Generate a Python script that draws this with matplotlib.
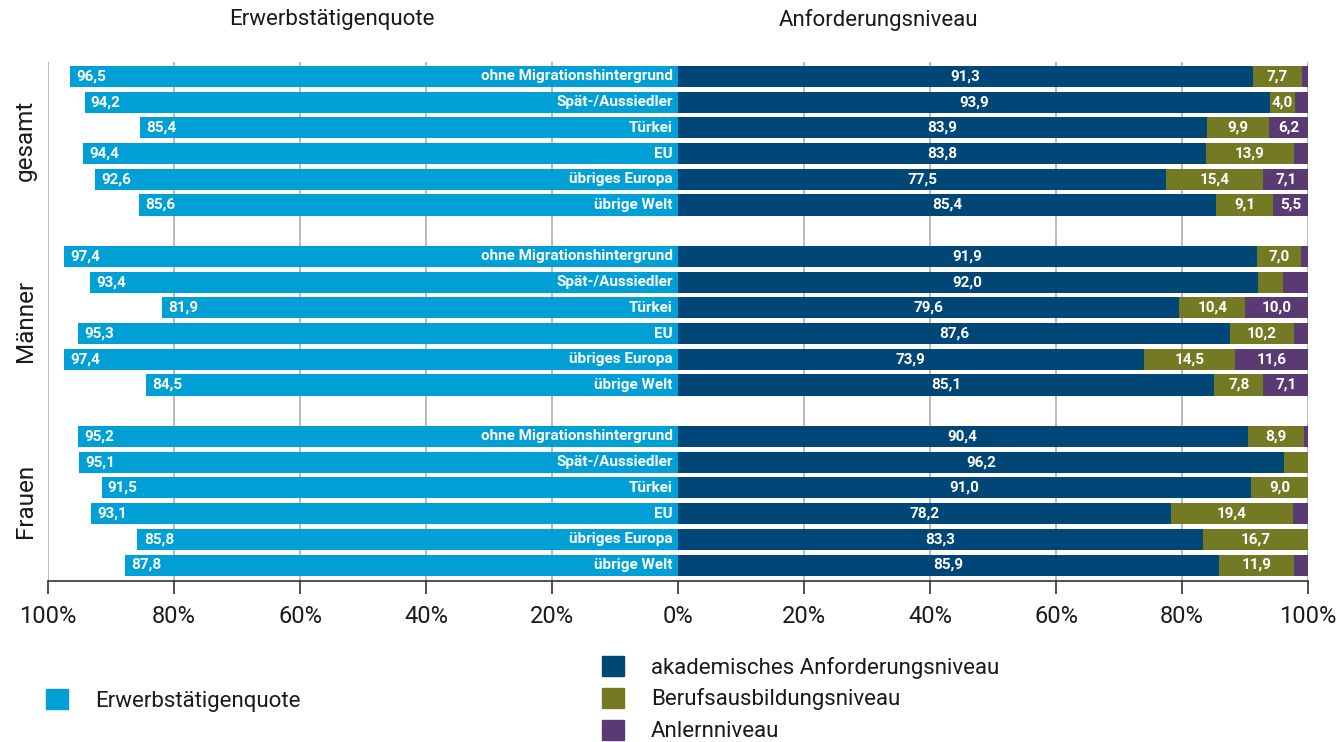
import numpy as np
import matplotlib
matplotlib.use("Agg")
import matplotlib.pyplot as plt
from matplotlib.patches import Patch

plt.rcParams['font.family'] = ['Roboto', 'DejaVu Sans']

groups = ['gesamt', 'Männer', 'Frauen']
origins = ['ohne Migrationshintergrund', 'Spät-/Aussiedler', 'Türkei', 'EU',
           'übriges Europa', 'übrige Welt']

# Erwerbstätigenquote (%), one list per group
quote = [
    [96.5, 94.2, 85.4, 94.4, 92.6, 85.6],
    [97.4, 93.4, 81.9, 95.3, 97.4, 84.5],
    [95.2, 95.1, 91.5, 93.1, 85.8, 87.8],
]

# Anforderungsniveau (%), one list per group
akademisch = [
    [91.3, 93.9, 83.9, 83.8, 77.5, 85.4],
    [91.9, 92.0, 79.6, 87.6, 73.9, 85.1],
    [90.4, 96.2, 91.0, 78.2, 83.3, 85.9],
]
beruf = [
    [7.7, 4.0, 9.9, 13.9, 15.4, 9.1],
    [7.0, 4.1, 10.4, 10.2, 14.5, 7.8],
    [8.9, 3.8, 9.0, 19.4, 16.7, 11.9],
]
anlern = [
    [1.0, 2.1, 6.2, 2.3, 7.1, 5.5],
    [1.1, 3.9, 10.0, 2.2, 11.6, 7.1],
    [0.7, 0.0, 0.0, 2.4, 0.0, 2.2],
]
# which segment values are printed inside the bars
beruf_shown = [
    [True, True, True, True, True, True],
    [True, False, True, True, True, True],
    [True, False, True, True, True, True],
]
anlern_shown = [
    [False, False, True, False, True, True],
    [False, False, True, False, True, True],
    [False, False, False, False, False, False],
]

ticks = [-100, -80, -60, -40, -20, 0, 20, 40, 60, 80, 100]

c_quote = '#009fd6'
c_akad = '#004677'
c_beruf = '#747a24'
c_anlern = '#5a3a72'
c_text = '#1a1a1a'


def fmt(v):
    return '{:.1f}'.format(v).replace('.', ',')


fig = plt.figure(figsize=(13.44, 7.42), dpi=100)
ax = fig.add_axes([48 / 1344, 1 - 581 / 742, 1260 / 1344, 519 / 742])

h = 0.82
lab_kw = dict(color='white', fontsize=11, fontweight='bold', va='center')
for g in range(3):
    ys = np.arange(6) + g * 7
    q = np.array(quote[g])
    a = np.array(akademisch[g])
    b = np.array(beruf[g])
    n = np.array(anlern[g])
    ax.barh(ys, -q, height=h, color=c_quote, zorder=2)
    ax.barh(ys, a, height=h, color=c_akad, zorder=2)
    ax.barh(ys, b, left=a, height=h, color=c_beruf, zorder=2)
    ax.barh(ys, n, left=a + b, height=h, color=c_anlern, zorder=2)
    for i, y in enumerate(ys):
        ax.text(-q[i] + 1.0, y, fmt(q[i]), ha='left', **lab_kw)
        ax.text(-0.8, y, origins[i], ha='right', **lab_kw)
        ax.text(a[i] / 2, y, fmt(a[i]), ha='center', **lab_kw)
        if beruf_shown[g][i]:
            ax.text(a[i] + b[i] / 2, y, fmt(b[i]), ha='center', **lab_kw)
        if anlern_shown[g][i]:
            ax.text(a[i] + b[i] + n[i] / 2, y, fmt(n[i]), ha='center', **lab_kw)
    ax.text(-0.018, 1 - (g * 7 + 2.5 + 0.56) / 20.18, groups[g],
            transform=ax.transAxes, rotation=90, ha='center', va='center',
            fontsize=17.5, color=c_text)

ax.set_xlim(-100, 100)
ax.set_ylim(19.62, -0.56)
ax.set_xticks(ticks)
ax.set_xticklabels(['{}%'.format(abs(t)) for t in ticks], fontsize=17,
                   color=c_text)
ax.set_yticks([])
ax.tick_params(axis='x', direction='out', length=9, width=1.2,
               color='#333333', pad=8)
for t in ticks:
    if t != 0:
        ax.axvline(t, color='#b4b4b4', lw=1.3, zorder=1)
for s in ['top', 'right', 'left']:
    ax.spines[s].set_visible(False)
ax.spines['bottom'].set_color('#333333')
ax.spines['bottom'].set_linewidth(1.2)

fig.text(332 / 1344, 1 - 20 / 742, 'Erwerbstätigenquote', ha='center',
         va='center', fontsize=16, color=c_text)
fig.text(878 / 1344, 1 - 20 / 742, 'Anforderungsniveau', ha='center',
         va='center', fontsize=16, color=c_text)

leg_kw = dict(frameon=False, fontsize=16, handlelength=1.0, handleheight=1.0,
              handletextpad=1.2, labelspacing=0.42, borderaxespad=0,
              borderpad=0, labelcolor=c_text)
fig.legend(handles=[Patch(color=c_quote, label='Erwerbstätigenquote')],
           loc='upper left', bbox_to_anchor=(46 / 1344, 1 - 689 / 742), **leg_kw)
fig.legend(handles=[Patch(color=c_akad, label='akademisches Anforderungsniveau'),
                    Patch(color=c_beruf, label='Berufsausbildungsniveau'),
                    Patch(color=c_anlern, label='Anlernniveau')],
           loc='upper left', bbox_to_anchor=(602 / 1344, 1 - 656 / 742), **leg_kw)

fig.savefig('out.png', dpi=100)
